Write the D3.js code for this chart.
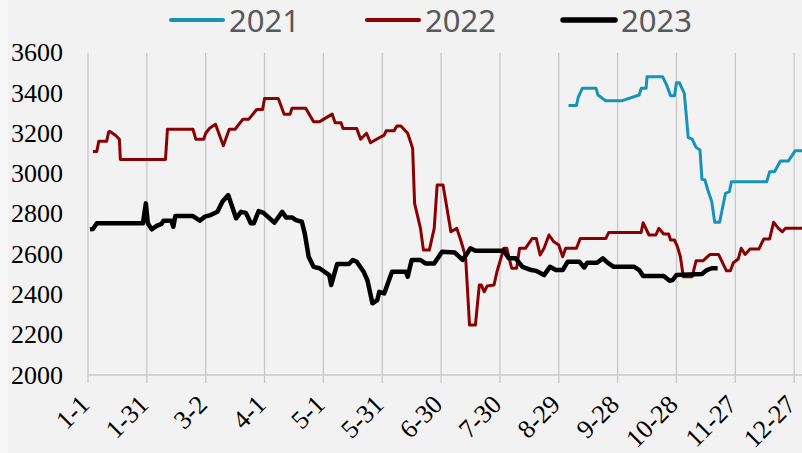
<!DOCTYPE html>
<html>
<head>
  <meta charset="UTF-8">
  <script src="https://d3js.org/d3.v7.min.js"></script>
  <style>
    body { margin: 0; background: #f2f2f2; }
    svg { display: block; }
    svg text.lab { font-family: "Liberation Serif", "Times New Roman", serif; font-size: 26px; fill: #000; }
    svg text.leg { font-family: "Noto Sans", sans-serif; font-size: 31px; fill: #595959; }
  </style>
</head>
<body>
  <svg width="802" height="453"></svg>
  <script>
    // day of year (0 = 1-1) and price, break points
    const xTickDays = [0, 30, 60, 90, 120, 150, 180, 210, 240, 270, 300, 330, 360];
    const xTickLabels = ["1-1", "1-31", "3-2", "4-1", "5-1", "5-31", "6-30", "7-30", "8-29", "9-28", "10-28", "11-27", "12-27"];
    const yTicks = [2000, 2200, 2400, 2600, 2800, 3000, 3200, 3400, 3600];

    const days2021 = [245, 249, 250, 252, 259, 260, 264, 272, 281, 282, 284.5, 285, 293, 295, 297, 299, 300, 301.5, 304, 306, 308, 310, 312, 313, 314.5, 316, 318, 319.5, 322, 325, 327, 328, 346, 347.5, 350, 353, 357, 360.5, 364];
    const vals2021 = [3338, 3338, 3381, 3423, 3423, 3390, 3361, 3361, 3390, 3423, 3423, 3480, 3480, 3439, 3386, 3386, 3451, 3451, 3398, 3178, 3171, 3130, 3117, 2971, 2968, 2918, 2860, 2758, 2758, 2902, 2910, 2959, 2959, 3009, 3009, 3062, 3062, 3113, 3113];

    const days2022 = [2.5, 4.5, 5.5, 9.5, 10.5, 11, 14, 16, 16.5, 39.5, 40.5, 53.5, 55, 59, 60, 62, 65, 69, 72, 75, 79, 82, 86, 89, 90, 97, 100, 103, 104, 111, 115, 118, 120, 124.5, 126, 129, 130, 137, 139, 142, 144, 148, 151, 152, 156, 157.5, 159.5, 163, 165.5, 166.5, 169.5, 171, 174, 176.5, 178, 181, 185, 188, 190, 192.5, 194.5, 197.5, 199.5, 200.5, 202, 203.5, 207, 208.5, 212, 213.5, 216, 218.5, 220, 223, 226.5, 228.5, 230.5, 232.5, 235, 237.5, 240, 242, 243.5, 249, 251, 264, 265.5, 282, 283, 286, 289.5, 291, 293.5, 296, 297, 299, 300.5, 302, 303.5, 308, 310, 313.5, 317, 321.5, 325.5, 327.5, 329, 331.5, 333, 335, 337.5, 342, 344.5, 347.5, 349.5, 352, 354, 355.5, 364];
    const vals2022 = [3110, 3110, 3160, 3160, 3205, 3210, 3190, 3170, 3070, 3070, 3220, 3220, 3170, 3170, 3200, 3225, 3245, 3138, 3220, 3220, 3270, 3270, 3318, 3318, 3373, 3373, 3294, 3294, 3324, 3324, 3257, 3257, 3269, 3295, 3252, 3252, 3224, 3224, 3170, 3200, 3153, 3175, 3191, 3212, 3212, 3236, 3236, 3200, 3125, 2852, 2728, 2620, 2620, 2728, 2943, 2943, 2711, 2728, 2670, 2587, 2248, 2248, 2447, 2447, 2413, 2442, 2447, 2513, 2629, 2629, 2530, 2530, 2629, 2629, 2678, 2678, 2596, 2629, 2695, 2661, 2645, 2587, 2629, 2629, 2678, 2678, 2708, 2708, 2756, 2695, 2695, 2728, 2700, 2700, 2670, 2670, 2637, 2587, 2488, 2488, 2567, 2567, 2598, 2598, 2517, 2517, 2557, 2576, 2629, 2598, 2625, 2625, 2675, 2675, 2758, 2728, 2711, 2728, 2728];

    const days2023 = [1, 2.5, 4.5, 28, 29.5, 30.5, 32.5, 35, 37.5, 38.5, 42.5, 43.5, 44.5, 53.5, 57, 59.5, 62.5, 66, 68.5, 71.5, 75.5, 78, 80.5, 83, 84.5, 87, 89.5, 95, 99, 101, 104, 106, 109, 110.5, 112.5, 115, 118, 123, 124, 127, 133, 135, 137, 140.5, 142.5, 145, 147.5, 148.5, 151, 155, 162, 163, 165, 169.5, 172, 176.5, 180.5, 187, 191, 195, 197.5, 212, 214.5, 218, 221.5, 226, 228.5, 232.5, 235.5, 238.5, 242, 244.5, 250.5, 253, 254.5, 259.5, 262.5, 265, 268, 278.5, 281, 283, 293.5, 296.5, 298, 300, 313, 315.5, 318, 321];
    const vals2023 = [2723, 2725, 2753, 2753, 2852, 2753, 2723, 2740, 2750, 2766, 2766, 2736, 2789, 2789, 2766, 2786, 2794, 2810, 2860, 2893, 2778, 2810, 2805, 2753, 2753, 2814, 2805, 2756, 2810, 2782, 2782, 2769, 2761, 2703, 2587, 2537, 2530, 2496, 2447, 2551, 2551, 2571, 2562, 2513, 2468, 2356, 2372, 2413, 2405, 2513, 2513, 2488, 2571, 2571, 2554, 2554, 2612, 2608, 2571, 2629, 2617, 2617, 2579, 2579, 2537, 2521, 2517, 2496, 2537, 2521, 2521, 2562, 2562, 2534, 2557, 2557, 2579, 2557, 2537, 2537, 2521, 2491, 2491, 2468, 2471, 2496, 2501, 2521, 2530, 2530];

    const series = [
      { name: "2021", days: days2021, vals: vals2021, color: "#1593ba", width: 3, lx: 171 },
      { name: "2022", days: days2022, vals: vals2022, color: "#8b0000", width: 3, lx: 367 },
      { name: "2023", days: days2023, vals: vals2023, color: "#000000", width: 4.5, lx: 563 }
    ];

    const svg = d3.select("svg");
    const gridColor = "#c8c8c8";

    svg.append("rect").attr("x", 0).attr("y", 0).attr("width", 8).attr("height", 453).attr("fill", "#f7f7f7");

    const x = d3.scaleLinear().domain([0, 364]).range([88, 802]);
    const y = d3.scaleLinear().domain([2000, 3600]).range([375, 52.7]);

    // vertical grid + tick marks
    svg.append("g").selectAll("line")
      .data(xTickDays)
      .enter().append("line")
      .attr("x1", d => x(d)).attr("x2", d => x(d))
      .attr("y1", y(3600)).attr("y2", y(2000) + 8)
      .attr("stroke", gridColor).attr("stroke-width", 1.3);

    svg.append("line")
      .attr("x1", x(0)).attr("x2", 802)
      .attr("y1", y(2000)).attr("y2", y(2000))
      .attr("stroke", gridColor).attr("stroke-width", 1.3);

    svg.append("g").selectAll("text")
      .data(yTicks)
      .enter().append("text")
      .attr("class", "lab")
      .attr("font-family", "Liberation Serif")
      .attr("x", 63).attr("y", d => y(d))
      .attr("dy", "0.33em")
      .attr("text-anchor", "end")
      .text(d => d);

    svg.append("g").selectAll("text")
      .data(xTickDays)
      .enter().append("text")
      .attr("class", "lab")
      .attr("font-family", "Liberation Serif")
      .attr("text-anchor", "end")
      .attr("transform", d => `translate(${x(d) + 3},${406}) rotate(-45)`)
      .text((d, i) => xTickLabels[i]);

    const line = d3.line()
      .x(d => x(d[0]))
      .y(d => y(d[1]));

    svg.append("g").selectAll("path")
      .data(series)
      .enter().append("path")
      .attr("d", s => line(s.days.map((d, i) => [d, s.vals[i]])))
      .attr("fill", "none")
      .attr("stroke", s => s.color)
      .attr("stroke-width", s => s.width)
      .attr("stroke-linejoin", "round");

    // legend
    const leg = svg.append("g").selectAll("g")
      .data(series)
      .enter().append("g");
    leg.append("line")
      .attr("x1", s => s.lx).attr("x2", s => s.lx + 52)
      .attr("y1", 20).attr("y2", 20)
      .attr("stroke", s => s.color)
      .attr("stroke-width", s => s.width + 1)
      .attr("stroke-linecap", "round");
    leg.append("text")
      .attr("class", "leg")
      .attr("x", s => s.lx + 58).attr("y", 32)
      .text(s => s.name);
  </script>
</body>
</html>
